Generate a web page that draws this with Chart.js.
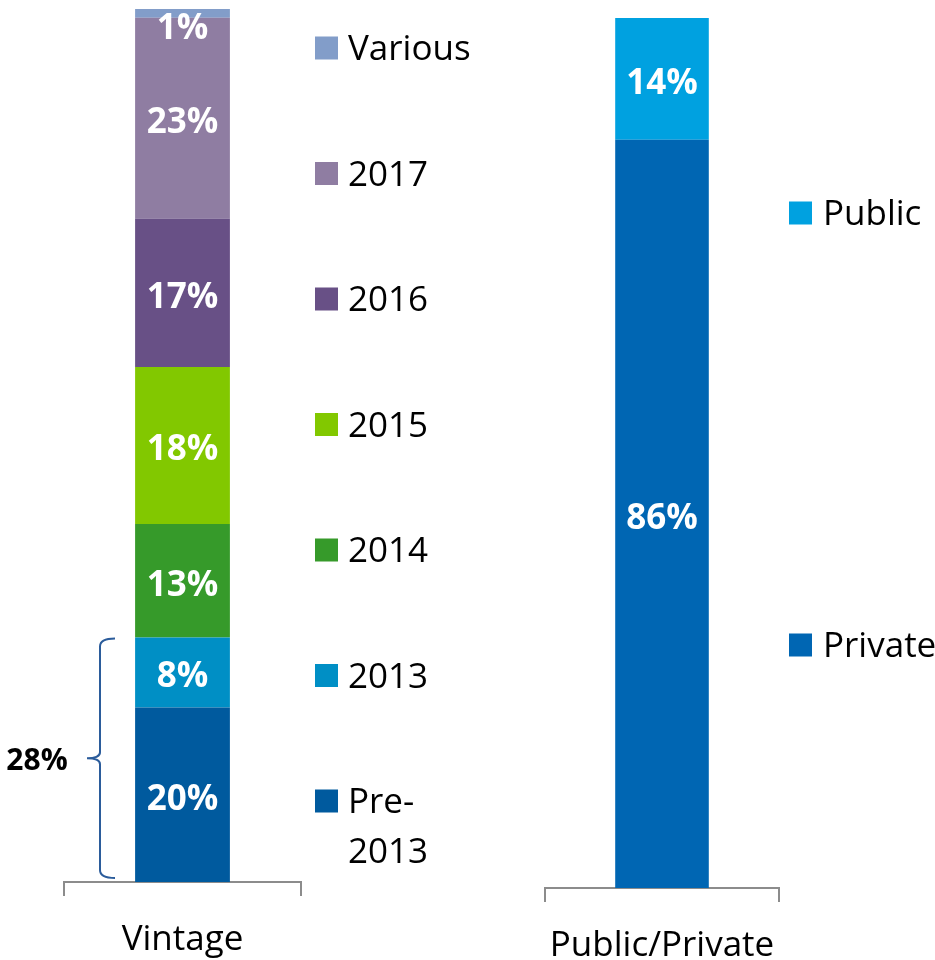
<!DOCTYPE html>
<html><head><meta charset="utf-8">
<script src="https://cdn.jsdelivr.net/npm/chart.js@4"></script>
<style>
html,body{margin:0;padding:0;background:#fff;}
#wrap{position:relative;width:935px;height:960px;overflow:hidden;}
#c1{position:absolute;left:0;top:0;}
#c2{position:absolute;left:480px;top:0;}
</style></head><body>
<div id="wrap">
<canvas id="c1" width="480" height="960"></canvas>
<canvas id="c2" width="455" height="960"></canvas>
</div>
<script>
// ---- data ----
const vintageCategories = ['Vintage'];
const vintageSeries = ['Pre-2013', '2013', '2014', '2015', '2016', '2017', 'Various'];
const vintageValues = [20, 8, 13, 18, 17, 23, 1];
const vintageColors = ['#005A9E', '#008FC5', '#369A2A', '#82C800', '#685086', '#8F7DA2', '#829DC9'];
const bracketSeriesCount = 2; // bracket spans Pre-2013 + 2013

const ownershipCategories = ['Public/Private'];
const ownershipSeries = ['Private', 'Public'];
const ownershipValues = [86, 14];
const ownershipColors = ['#0066B3', '#00A1E0'];

const FONT = '"Open Sans", "Noto Sans", sans-serif';
Chart.defaults.font.family = FONT;

const valueLabels = {
  id: 'valueLabels',
  afterDatasetsDraw(chart) {
    const ctx = chart.ctx;
    ctx.save();
    ctx.font = 'bold 35px ' + FONT;
    ctx.fillStyle = '#fff';
    ctx.textAlign = 'center';
    ctx.textBaseline = 'middle';
    chart.data.datasets.forEach((ds, i) => {
      const meta = chart.getDatasetMeta(i);
      meta.data.forEach((el, j) => {
        let y = (el.y + el.base) / 2 + 5;
        y = Math.max(y, chart.chartArea.top + 20);
        ctx.fillText(ds.data[j] + '%', el.x, y);
      });
    });
    ctx.restore();
  }
};

function sideLegend(cfg) {
  return {
    id: 'sideLegend',
    afterDraw(chart) {
      const ctx = chart.ctx;
      ctx.save();
      ctx.font = '35px ' + FONT;
      ctx.textAlign = 'left';
      ctx.textBaseline = 'alphabetic';
      const items = chart.data.datasets.slice().reverse();
      items.forEach((d, i) => {
        const cy = cfg.y0 + i * cfg.step;
        ctx.fillStyle = d.backgroundColor;
        ctx.fillRect(cfg.x, cy - 11.5, 23, 23);
        ctx.fillStyle = '#000';
        const tx = cfg.x + cfg.gap;
        const avail = chart.width - tx - 2;
        let lines = [d.label];
        if (ctx.measureText(d.label).width > avail && d.label.indexOf('-') >= 0) {
          const k = d.label.indexOf('-') + 1;
          lines = [d.label.slice(0, k), d.label.slice(k)];
        }
        lines.forEach((t, li) => ctx.fillText(t, tx, cy + 12 + li * 50));
      });
      ctx.restore();
    }
  };
}

const bracket = {
  id: 'bracket',
  afterDraw(chart) {
    const ctx = chart.ctx;
    const ys = chart.scales.y;
    const total = vintageValues.slice(0, bracketSeriesCount).reduce((a, b) => a + b, 0);
    const yTop = ys.getPixelForValue(total) + 1;
    const yBot = ys.getPixelForValue(0) - 4;
    const ym = (yTop + yBot) / 2;
    const xr = 115, xv = 100, xt = 87;
    ctx.save();
    ctx.strokeStyle = '#2B5C9B';
    ctx.lineWidth = 2;
    ctx.beginPath();
    ctx.moveTo(xr, yTop);
    ctx.quadraticCurveTo(xv, yTop, xv, yTop + 8);
    ctx.lineTo(xv, ym - 6);
    ctx.quadraticCurveTo(xv, ym, xt, ym);
    ctx.quadraticCurveTo(xv, ym, xv, ym + 6);
    ctx.lineTo(xv, yBot - 8);
    ctx.quadraticCurveTo(xv, yBot, xr, yBot);
    ctx.stroke();
    ctx.font = 'bold 30px ' + FONT;
    ctx.fillStyle = '#000';
    ctx.textAlign = 'center';
    ctx.textBaseline = 'middle';
    ctx.fillText(total + '%', 37, ym + 3);
    ctx.restore();
  }
};

function makeDatasets(names, values, colors) {
  return names.map((n, i) => ({
    label: n,
    data: [values[i]],
    backgroundColor: colors[i],
    borderWidth: 0,
    barPercentage: 0.4,
    categoryPercentage: 1
  }));
}

function xAxis(h) {
  return {
    stacked: true,
    offset: true,
    grid: { display: true, drawOnChartArea: false, drawTicks: true, tickLength: 14, offset: true, color: '#8C8C8C', lineWidth: 2 },
    border: { display: true, color: '#8C8C8C', width: 2 },
    ticks: { color: '#000', font: { family: FONT, size: 35 }, padding: 23, maxRotation: 0 },
    afterFit(s) { s.height = h; }
  };
}

const common = {
  responsive: false,
  animation: false,
  devicePixelRatio: 1,
  events: [],
  plugins: { legend: { display: false }, tooltip: { enabled: false } }
};

new Chart(document.getElementById('c1'), {
  type: 'bar',
  data: { labels: vintageCategories, datasets: makeDatasets(vintageSeries, vintageValues, vintageColors) },
  options: Object.assign({}, common, {
    layout: { padding: { left: 64, right: 179, top: 9, bottom: 0 } },
    scales: { x: xAxis(78), y: { stacked: true, display: false, min: 0, max: 100 } }
  }),
  plugins: [valueLabels, sideLegend({ x: 315, gap: 33, y0: 48, step: 125.5 }), bracket]
});

new Chart(document.getElementById('c2'), {
  type: 'bar',
  data: { labels: ownershipCategories, datasets: makeDatasets(ownershipSeries, ownershipValues, ownershipColors) },
  options: Object.assign({}, common, {
    layout: { padding: { left: 65, right: 156, top: 18, bottom: 0 } },
    scales: { x: xAxis(72), y: { stacked: true, display: false, min: 0, max: 100 } }
  }),
  plugins: [valueLabels, sideLegend({ x: 309, gap: 34, y0: 213, step: 432 })]
});
</script>
</body></html>
